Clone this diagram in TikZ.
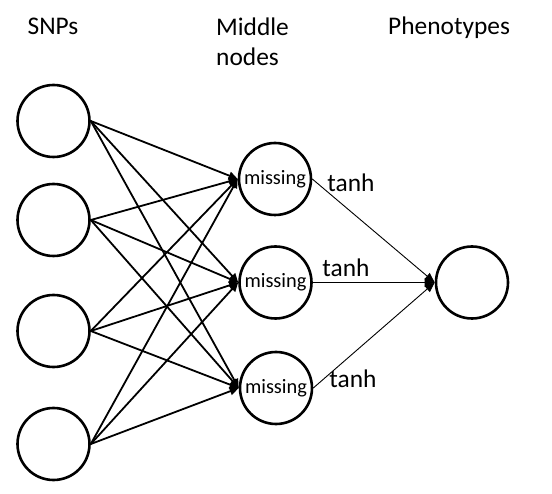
\documentclass[tikz,border=0pt]{standalone}
\usepackage{fontspec}
\setmainfont{Carlito}
\usetikzlibrary{arrows.meta}
\tikzstyle{unit} = [circle, minimum size=72pt, inner sep=0pt, draw=black, line width=2.6pt, fill=white, font=\fontsize{20.4}{24}\selectfont]
\tikzstyle{title} = [inner sep=0pt, font=\fontsize{25.4}{30.5}\selectfont]
\tikzstyle{arrow} = [line width=1.8pt, -{Triangle[length=9pt,width=8pt]}]
\tikzstyle{thinarrow} = [line width=0.9pt, -{Triangle[length=10pt,width=8pt]}]

\begin{document}
\begin{tikzpicture}[x=1pt, y=-1pt]
        \useasboundingbox (0,0) rectangle (552,494);
        % Titles
        \node (snptitle) [title, anchor=base] at (53,35) {SNPs};
        \node (midtitle) [title, anchor=north west, align=left] at (216,17.5) {Middle\\nodes};
        \node (phenotitle) [title, anchor=base west] at (388,35) {Phenotypes};

        % Nodes
        \node (snp1) [unit] at (53.5,121) {};
        \node (snp2) [unit] at (53.5,220) {};
        \node (snp3) [unit] at (53.5,331) {};
        \node (snp4) [unit] at (53.5,444) {};
        \node (mid1) [unit] at (275,179) {missing};
        \node (mid2) [unit] at (275.5,282.5) {missing};
        \node (mid3) [unit] at (276,388) {missing};
        \node (pheno) [unit] at (472,282.5) {};

        % Arrows
        \draw [arrow] (snp1.east) -- (mid1.west);
        \draw [arrow] (snp1.east) -- (mid2.west);
        \draw [arrow] (snp1.east) -- (mid3.west);
        \draw [arrow] (snp2.east) -- (mid1.west);
        \draw [arrow] (snp2.east) -- (mid2.west);
        \draw [arrow] (snp2.east) -- (mid3.west);
        \draw [arrow] (snp3.east) -- (mid1.west);
        \draw [arrow] (snp3.east) -- (mid2.west);
        \draw [arrow] (snp3.east) -- (mid3.west);
        \draw [arrow] (snp4.east) -- (mid1.west);
        \draw [arrow] (snp4.east) -- (mid2.west);
        \draw [arrow] (snp4.east) -- (mid3.west);
        \draw [thinarrow] (mid1.east) -- (pheno.west);
        \draw [thinarrow] (mid2.east) -- (pheno.west);
        \draw [thinarrow] (mid3.east) -- (pheno.west);

        % Labels
        \node (tanh1) [title] at (351,183) {tanh};
        \node (tanh2) [title] at (346,268) {tanh};
        \node (tanh3) [title] at (353,379) {tanh};
    \end{tikzpicture}
\end{document}
